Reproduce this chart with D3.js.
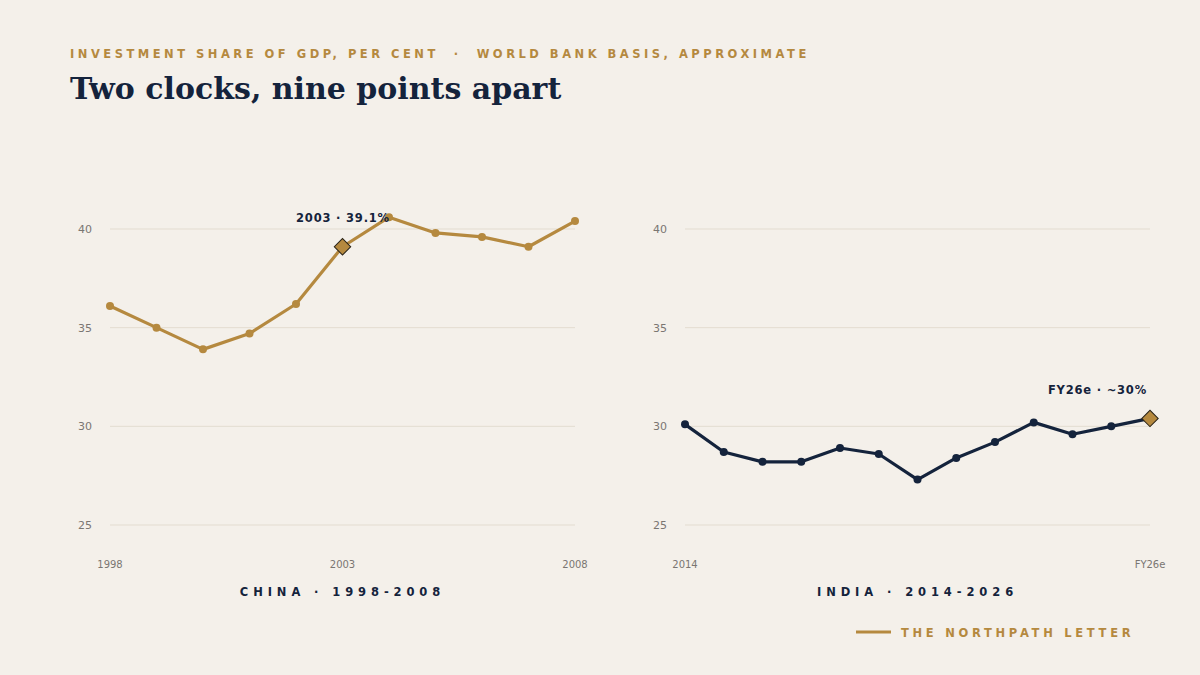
<!DOCTYPE html>
<html>
<head>
<meta charset="utf-8">
<script src="https://cdn.jsdelivr.net/npm/d3@7"></script>
<style>
  body { margin: 0; background: #f4f0ea; }
  svg { display: block; }
</style>
</head>
<body>
<div id="chart"></div>
<script>
const chinaYears  = [1998, 1999, 2000, 2001, 2002, 2003, 2004, 2005, 2006, 2007, 2008];
const chinaValues = [36.1, 35.0, 33.9, 34.7, 36.2, 39.1, 40.6, 39.8, 39.6, 39.1, 40.4];

const indiaYears  = ["2014", "2015", "2016", "2017", "2018", "2019", "2020", "2021", "2022", "2023", "2024", "2025", "FY26e"];
const indiaValues = [30.1, 28.7, 28.2, 28.2, 28.9, 28.6, 27.3, 28.4, 29.2, 30.2, 29.6, 30.0, 30.4];

const yTicks = [25, 30, 35, 40];
const chinaTickLabels = [1998, 2003, 2008];
const indiaTickLabels = ["2014", "FY26e"];

const gold = "#b5893f";
const navy = "#14233c";

const width = 1200;
const height = 675;

const svg = d3.select("#chart")
  .append("svg")
  .attr("width", width)
  .attr("height", height);

svg.append("rect")
  .attr("width", width)
  .attr("height", height)
  .attr("fill", "#f4f0ea");

svg.append("text")
  .attr("x", 70)
  .attr("y", 58)
  .attr("fill", gold)
  .attr("xml:space", "preserve")
  .style("font-family", "DejaVu Sans, sans-serif")
  .style("font-weight", "bold")
  .style("font-size", "11.5px")
  .style("letter-spacing", "3.5px")
  .text("INVESTMENT SHARE OF GDP, PER CENT  \u00b7  WORLD BANK BASIS, APPROXIMATE");

svg.append("text")
  .attr("x", 70)
  .attr("y", 99)
  .attr("fill", navy)
  .style("font-family", "DejaVu Serif, serif")
  .style("font-weight", "bold")
  .style("font-size", "30px")
  .text("Two clocks, nine points apart");

// shared y scale
const y = d3.scaleLinear()
  .domain([24, 42])
  .range([229 + 16 * 296 / 15, 229 - 2 * 296 / 15]);

const drawPanel = (opts) => {
  const g = svg.append("g");
  const x = opts.x;

  g.selectAll(".grid")
    .data(yTicks)
    .join("line")
      .attr("x1", opts.left)
      .attr("x2", opts.right)
      .attr("y1", d => y(d))
      .attr("y2", d => y(d))
      .attr("stroke", "#e3dcd0")
      .attr("stroke-width", 1);

  g.selectAll(".ylab")
    .data(yTicks)
    .join("text")
      .attr("x", opts.left - 18)
      .attr("y", d => y(d) + 4)
      .attr("text-anchor", "end")
      .attr("fill", "#7a7672")
      .style("font-family", "DejaVu Sans, sans-serif")
      .style("font-size", "11px")
      .text(d => d);

  g.selectAll(".xlab")
    .data(opts.tickLabels)
    .join("text")
      .attr("x", d => x(d))
      .attr("y", 568)
      .attr("text-anchor", "middle")
      .attr("fill", "#7a7672")
      .style("font-family", "DejaVu Sans, sans-serif")
      .style("font-size", "10px")
      .text(d => d);

  const pts = opts.cats.map((c, i) => ({ c, v: opts.values[i] }));

  g.append("path")
    .datum(pts)
    .attr("fill", "none")
    .attr("stroke", opts.color)
    .attr("stroke-width", 3.2)
    .attr("stroke-linejoin", "round")
    .attr("d", d3.line().x(d => x(d.c)).y(d => y(d.v)));

  g.selectAll(".dot")
    .data(pts.filter(d => d.c !== opts.highlight))
    .join("circle")
      .attr("cx", d => x(d.c))
      .attr("cy", d => y(d.v))
      .attr("r", 4)
      .attr("fill", opts.color);

  const hp = pts.find(d => d.c === opts.highlight);
  g.append("rect")
    .attr("x", -5.8)
    .attr("y", -5.8)
    .attr("width", 11.6)
    .attr("height", 11.6)
    .attr("fill", gold)
    .attr("stroke", "#2a2418")
    .attr("stroke-width", 1)
    .attr("transform", `translate(${x(hp.c)},${y(hp.v)}) rotate(45)`);

  g.append("text")
    .attr("x", opts.annX)
    .attr("y", opts.annY)
    .attr("text-anchor", opts.annAnchor)
    .attr("fill", navy)
    .style("font-family", "DejaVu Sans, sans-serif")
    .style("font-weight", "bold")
    .style("font-size", "11.5px")
    .style("letter-spacing", "0.8px")
    .text(opts.annText);

  g.append("text")
    .attr("x", (opts.left + opts.right) / 2)
    .attr("y", 596)
    .attr("text-anchor", "middle")
    .attr("fill", navy)
    .style("font-family", "DejaVu Sans, sans-serif")
    .style("font-weight", "bold")
    .style("font-size", "11.5px")
    .style("letter-spacing", "4.9px")
    .text(opts.title);
};

const xChina = d3.scaleLinear()
  .domain([1998, 2008])
  .range([110, 575]);

const xIndia = d3.scalePoint()
  .domain(indiaYears)
  .range([685, 1150]);

drawPanel({
  x: xChina, left: 110, right: 575,
  cats: chinaYears, values: chinaValues, color: gold,
  tickLabels: chinaTickLabels, highlight: 2003,
  annText: "2003 \u00b7 39.1%", annX: 343, annY: 222, annAnchor: "middle",
  title: "CHINA \u00b7 1998-2008"
});

drawPanel({
  x: xIndia, left: 685, right: 1150,
  cats: indiaYears, values: indiaValues, color: navy,
  tickLabels: indiaTickLabels, highlight: "FY26e",
  annText: "FY26e \u00b7 ~30%", annX: 1147, annY: 394, annAnchor: "end",
  title: "INDIA \u00b7 2014-2026"
});

// footer
svg.append("line")
  .attr("x1", 856)
  .attr("x2", 891)
  .attr("y1", 632)
  .attr("y2", 632)
  .attr("stroke", gold)
  .attr("stroke-width", 3);

svg.append("text")
  .attr("x", 901)
  .attr("y", 637)
  .attr("fill", gold)
  .style("font-family", "DejaVu Sans, sans-serif")
  .style("font-weight", "bold")
  .style("font-size", "11.5px")
  .style("letter-spacing", "3.7px")
  .text("THE NORTHPATH LETTER");
</script>
</body>
</html>
